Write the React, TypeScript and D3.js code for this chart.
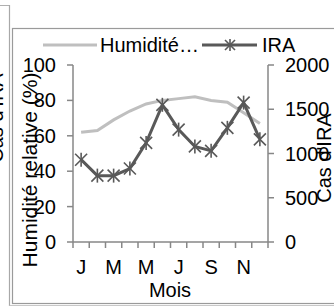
import React from 'react';
import * as d3 from 'd3';

// Month initials (only odd ones are labelled on the axis)
const months = ['J', 'F', 'M', 'A', 'M', 'J', 'J', 'A', 'S', 'O', 'N', 'D'];
const shownMonths = [0, 2, 4, 6, 8, 10];

// Humidité relative (%) - left axis
const humidite = [62, 63, 69, 74, 78, 80, 81, 82, 80, 79, 73, 67];

// Cas d'IRA - right axis
const ira = [930, 750, 750, 830, 1120, 1550, 1270, 1080, 1030, 1290, 1575, 1160];

const leftTicks = [0, 20, 40, 60, 80, 100];
const rightTicks = [0, 500, 1000, 1500, 2000];

const W = 334;
const H = 307;
const FONT = '"Liberation Sans", Arial, sans-serif';
const AXIS = '#878787';
const HUM_COLOR = '#bfbfbf';
const IRA_COLOR = '#595959';

const Star: React.FC<{ x: number; y: number; s?: number }> = ({ x, y, s = 6 }) => (
    <g stroke={IRA_COLOR} strokeWidth={1.6}>
        <line x1={x - s} y1={y - s} x2={x + s} y2={y + s} />
        <line x1={x - s} y1={y + s} x2={x + s} y2={y - s} />
        <line x1={x} y1={y - s - 1} x2={x} y2={y + s + 1} />
    </g>
);

const App: React.FC = () => {
    const plot = { left: 73, right: 268, top: 65, bottom: 242 };

    const x = d3.scaleBand<number>()
        .domain(d3.range(months.length))
        .range([plot.left, plot.right]);

    const yLeft = d3.scaleLinear().domain([0, 100]).range([plot.bottom, plot.top]);
    const yRight = d3.scaleLinear().domain([0, 2000]).range([plot.bottom, plot.top]);

    const cx = (i: number) => (x(i) || 0) + x.bandwidth() / 2;

    const humLine = d3.line<number>()
        .x((_, i) => cx(i))
        .y(d => yLeft(d));

    const iraLine = d3.line<number>()
        .x((_, i) => cx(i))
        .y(d => yRight(d));

    const boundaries = d3.range(months.length + 1).map(i => plot.left + i * x.bandwidth());

    return (
        <svg
            width={W}
            height={H}
            style={{ position: 'fixed', left: 0, top: 0, background: '#fff' }}
            fontFamily={FONT}
            fontSize={20}
        >
            {/* neighbouring chart frame, cut at the left edge */}
            <line x1={0} y1={5.5} x2={9.5} y2={5.5} stroke="#b0b0b0" />
            <line x1={9.5} y1={5} x2={9.5} y2={306} stroke="#a8a8a8" strokeWidth={1.2} />
            <line x1={9.5} y1={305.5} x2={W} y2={305.5} stroke="#c8c8c8" />
            <text
                transform="translate(3,118) rotate(-90)"
                textAnchor="middle"
                fill="#000"
            >
                Cas d'IRA
            </text>

            {/* chart frame */}
            <rect x={12.5} y={28.5} width={W} height={275} fill="#fff" stroke="#9a9a9a" strokeWidth={1.2} />

            {/* legend */}
            <line x1={43} y1={45} x2={97} y2={45} stroke={HUM_COLOR} strokeWidth={3} />
            <text x={100} y={45} dy="0.35em">Humidité…</text>
            <line x1={202} y1={45} x2={257} y2={45} stroke={IRA_COLOR} strokeWidth={3} />
            <Star x={230} y={45} s={5} />
            <text x={262} y={45} dy="0.35em">IRA</text>

            {/* left axis */}
            <line x1={plot.left} y1={plot.top} x2={plot.left} y2={plot.bottom} stroke={AXIS} strokeWidth={1.5} />
            {leftTicks.map(t => (
                <g key={'l' + t}>
                    <line x1={plot.left - 6} y1={yLeft(t)} x2={plot.left} y2={yLeft(t)} stroke={AXIS} strokeWidth={1.5} />
                    <text x={56} y={yLeft(t)} dy="0.35em" textAnchor="end">{t}</text>
                </g>
            ))}

            {/* right axis */}
            <line x1={plot.right} y1={plot.top} x2={plot.right} y2={plot.bottom} stroke={AXIS} strokeWidth={1.5} />
            {rightTicks.map(t => (
                <g key={'r' + t}>
                    <line x1={plot.right} y1={yRight(t)} x2={plot.right + 6} y2={yRight(t)} stroke={AXIS} strokeWidth={1.5} />
                    <text x={285} y={yRight(t)} dy="0.35em">{t}</text>
                </g>
            ))}

            {/* x axis */}
            <line x1={plot.left} y1={plot.bottom} x2={plot.right} y2={plot.bottom} stroke={AXIS} strokeWidth={1.5} />
            {boundaries.map((bx, i) => (
                <line key={'b' + i} x1={bx} y1={plot.bottom} x2={bx} y2={plot.bottom + 6} stroke={AXIS} strokeWidth={1.5} />
            ))}
            {shownMonths.map(i => (
                <text key={'m' + i} x={cx(i)} y={267} dy="0.35em" textAnchor="middle">{months[i]}</text>
            ))}

            {/* axis titles */}
            <text x={170} y={290} dy="0.35em" textAnchor="middle">Mois</text>
            <text
                transform="translate(30,170) rotate(-90)"
                dy="0.35em"
                textAnchor="middle"
                fontSize={21}
            >
                Humidité relative (%)
            </text>
            <text
                transform="translate(324,158) rotate(-90)"
                dy="0.35em"
                textAnchor="middle"
            >
                Cas d'IRA
            </text>

            {/* series */}
            <path d={humLine(humidite) || ''} fill="none" stroke={HUM_COLOR} strokeWidth={3} />
            <path d={iraLine(ira) || ''} fill="none" stroke={IRA_COLOR} strokeWidth={3} />
            {ira.map((v, i) => (
                <Star key={'s' + i} x={cx(i)} y={yRight(v)} />
            ))}
        </svg>
    );
};

export default App;
